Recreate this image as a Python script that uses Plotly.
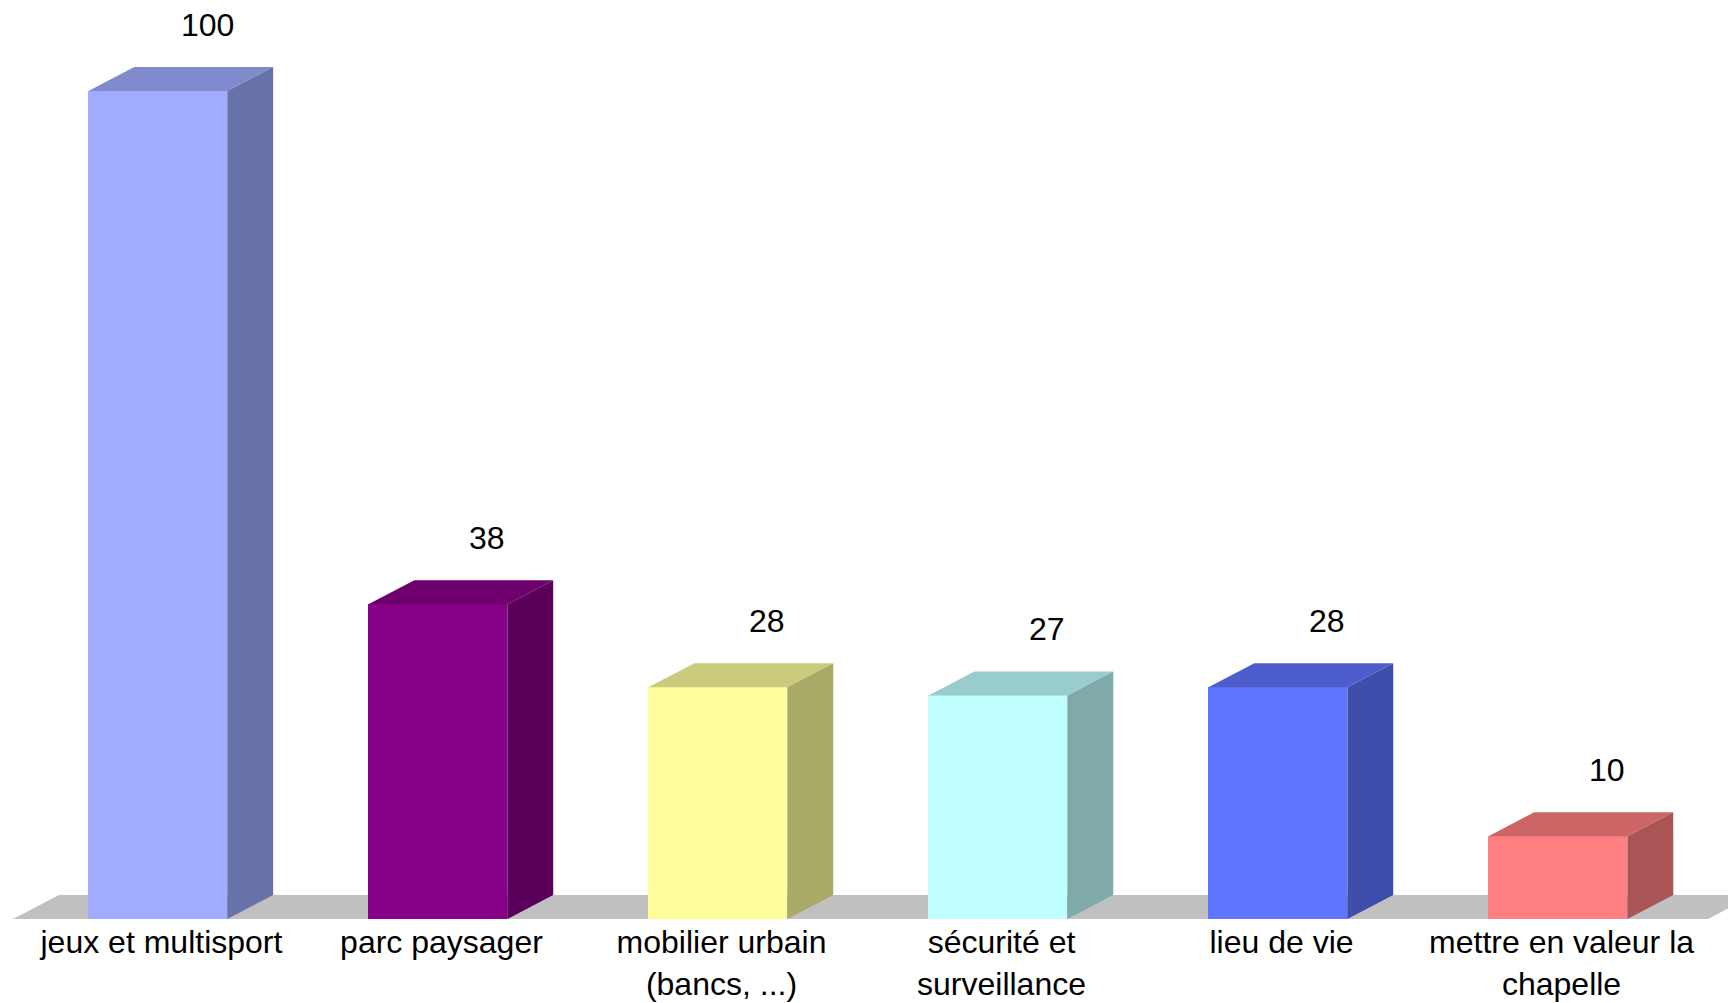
import plotly.graph_objects as go

# ---- data ----
categories = ["jeux et multisport", "parc paysager", "mobilier urbain<br>(bancs, ...)",
              "sécurité et<br>surveillance", "lieu de vie", "mettre en valeur la<br>chapelle"]
values = [100, 38, 28, 27, 28, 10]
front_colors = ["#a0acff", "#880088", "#fdfd9c", "#bfffff", "#6075ff", "#ff8080"]
top_colors = ["#808acc", "#6d006d", "#cbcb7d", "#99cccc", "#4d5ecc", "#cc6666"]
side_colors = ["#6872aa", "#5a005a", "#a9a968", "#80aaaa", "#3f4eaa", "#aa5555"]

# ---- geometry (in axis units) ----
BAR_W = 0.496        # front-face width in category units
DX = 0.164           # 3D depth, x direction (category units)
DY = 2.9             # 3D depth, y direction (value units)
FLOOR_PAD_L = 0.517  # floor overhang beyond first bar centre
FLOOR_PAD_R = 0.536  # floor overhang beyond last bar centre
LABEL_NUDGE = 0.013  # small rightward offset of text

xs = list(range(len(values)))
fig = go.Figure()

# front faces
fig.add_trace(go.Bar(x=xs, y=values, width=BAR_W,
                     marker=dict(color=front_colors, line=dict(width=0)),
                     hoverinfo="skip", showlegend=False))

for i, v in enumerate(values):
    l, r = i - BAR_W / 2, i + BAR_W / 2
    # top face
    fig.add_trace(go.Scatter(x=[l, r, r + DX, l + DX, l], y=[v, v, v + DY, v + DY, v],
                             mode="lines", fill="toself", fillcolor=top_colors[i],
                             line=dict(width=0, color=top_colors[i]),
                             hoverinfo="skip", showlegend=False))
    # side face
    fig.add_trace(go.Scatter(x=[r, r + DX, r + DX, r, r], y=[0, DY, v + DY, v, 0],
                             mode="lines", fill="toself", fillcolor=side_colors[i],
                             line=dict(width=0, color=side_colors[i]),
                             hoverinfo="skip", showlegend=False))
    fig.add_annotation(x=i + DX + LABEL_NUDGE, y=v + DY, text=str(v), showarrow=False,
                       yanchor="middle", yshift=42,
                       font=dict(family="Liberation Sans, Arial", size=32, color="#000000"))

# floor
fl, fr = xs[0] - FLOOR_PAD_L, xs[-1] + FLOOR_PAD_R
fig.add_shape(type="path", xref="x", yref="y", layer="below",
              path=f"M {fl},0 L {fr},0 L {fr + DX},{DY} L {fl + DX},{DY} Z",
              fillcolor="#c0c0c0", line=dict(width=0))

fig.update_layout(
    width=1728, height=995,
    margin=dict(l=0, r=0, t=0, b=83, pad=0),
    paper_bgcolor="white", plot_bgcolor="white",
    font=dict(family="Liberation Sans, Arial", size=32, color="#000000"),
    bargap=0,
    xaxis=dict(range=[-0.535, 5.636], tickvals=[x + LABEL_NUDGE for x in xs],
               ticktext=categories,
               showgrid=False, zeroline=False, showline=False, ticks="",
               tickfont=dict(size=32, color="#000000"), fixedrange=True),
    yaxis=dict(range=[-0.12, 110.02], visible=False, showgrid=False,
               zeroline=False, fixedrange=True),
)

fig.write_html("out.html")
